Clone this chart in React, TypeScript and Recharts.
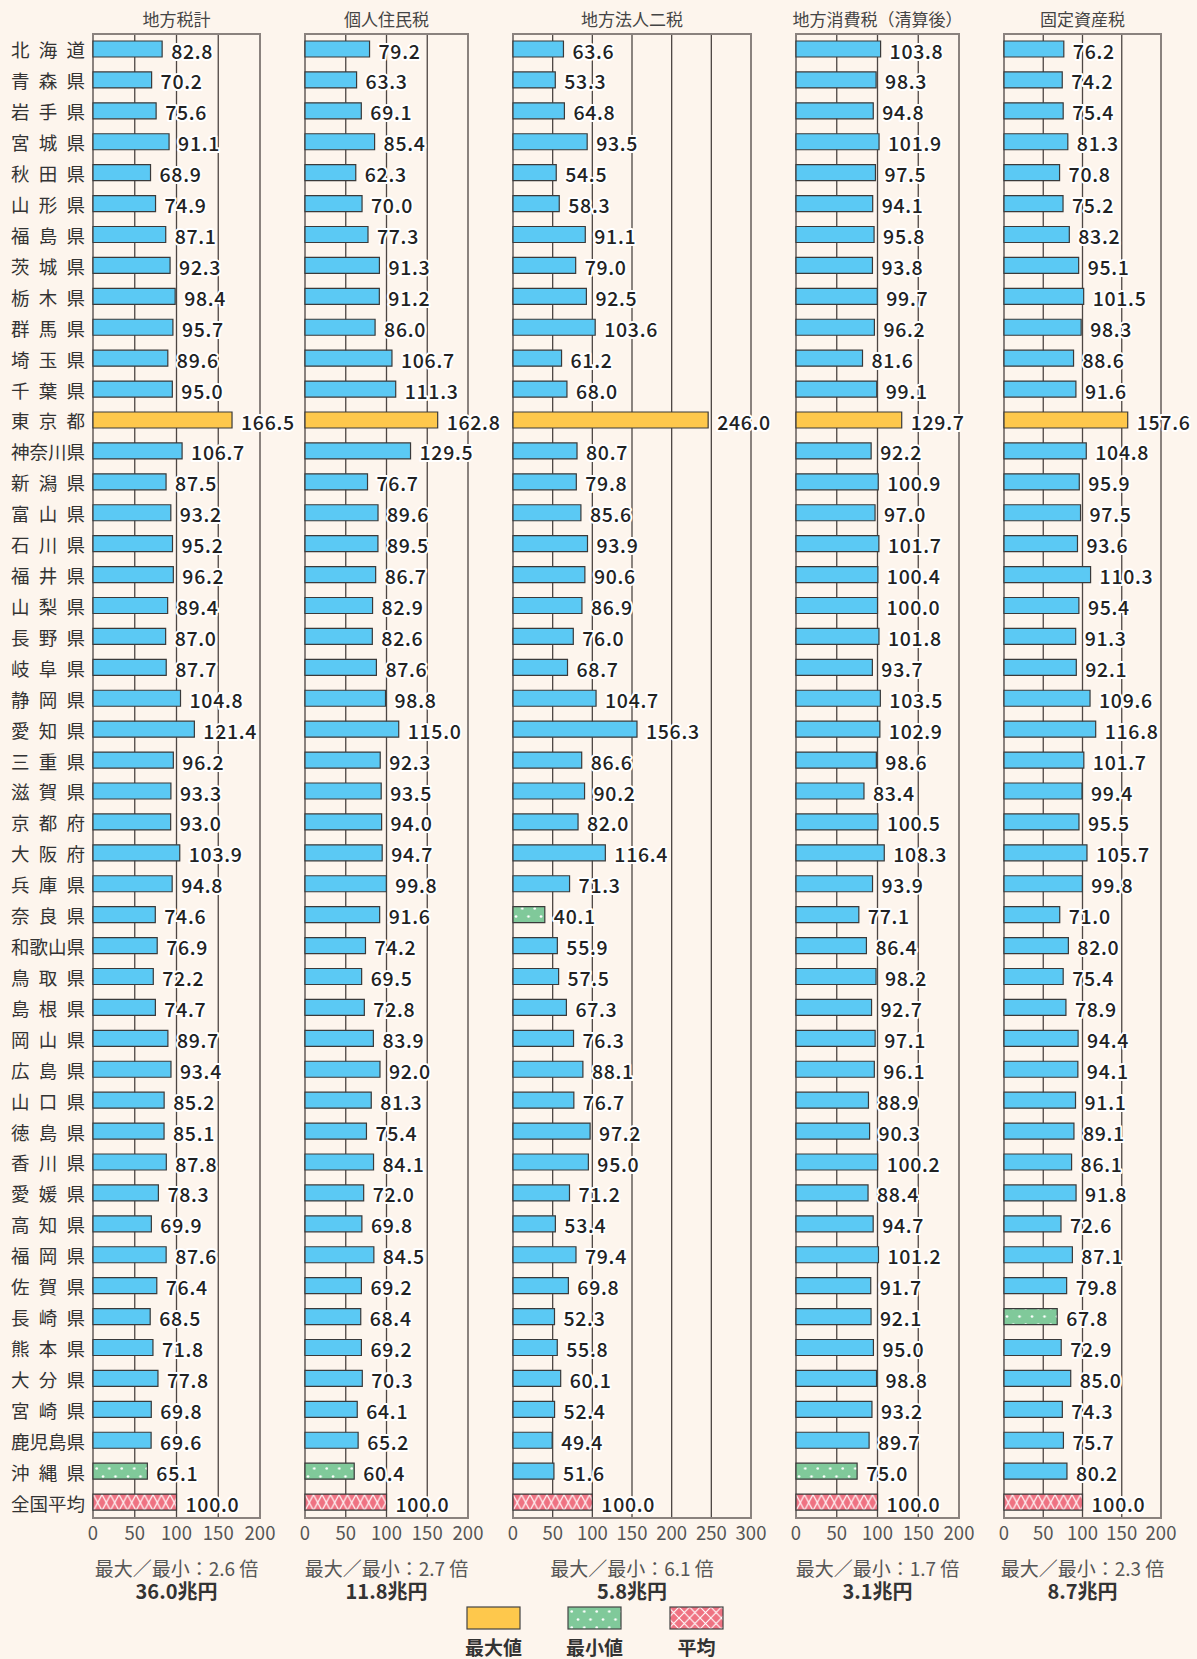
import React from "react";
import { BarChart, Bar, XAxis, YAxis, CartesianGrid, Cell, LabelList, ReferenceArea } from "recharts";

// 都道府県（全国平均=100 の指数）
const prefectures = [
  "北海道", "青森県", "岩手県", "宮城県", "秋田県", "山形県", "福島県", "茨城県", "栃木県", "群馬県",
  "埼玉県", "千葉県", "東京都", "神奈川県", "新潟県", "富山県", "石川県", "福井県", "山梨県", "長野県",
  "岐阜県", "静岡県", "愛知県", "三重県", "滋賀県", "京都府", "大阪府", "兵庫県", "奈良県", "和歌山県",
  "鳥取県", "島根県", "岡山県", "広島県", "山口県", "徳島県", "香川県", "愛媛県", "高知県", "福岡県",
  "佐賀県", "長崎県", "熊本県", "大分県", "宮崎県", "鹿児島県", "沖縄県", "全国平均",
];

const chihoZeikei = [
  82.8, 70.2, 75.6, 91.1, 68.9, 74.9, 87.1, 92.3, 98.4, 95.7,
  89.6, 95.0, 166.5, 106.7, 87.5, 93.2, 95.2, 96.2, 89.4, 87.0,
  87.7, 104.8, 121.4, 96.2, 93.3, 93.0, 103.9, 94.8, 74.6, 76.9,
  72.2, 74.7, 89.7, 93.4, 85.2, 85.1, 87.8, 78.3, 69.9, 87.6,
  76.4, 68.5, 71.8, 77.8, 69.8, 69.6, 65.1, 100.0,
];

const kojinJuminzei = [
  79.2, 63.3, 69.1, 85.4, 62.3, 70.0, 77.3, 91.3, 91.2, 86.0,
  106.7, 111.3, 162.8, 129.5, 76.7, 89.6, 89.5, 86.7, 82.9, 82.6,
  87.6, 98.8, 115.0, 92.3, 93.5, 94.0, 94.7, 99.8, 91.6, 74.2,
  69.5, 72.8, 83.9, 92.0, 81.3, 75.4, 84.1, 72.0, 69.8, 84.5,
  69.2, 68.4, 69.2, 70.3, 64.1, 65.2, 60.4, 100.0,
];

const hojinNizei = [
  63.6, 53.3, 64.8, 93.5, 54.5, 58.3, 91.1, 79.0, 92.5, 103.6,
  61.2, 68.0, 246.0, 80.7, 79.8, 85.6, 93.9, 90.6, 86.9, 76.0,
  68.7, 104.7, 156.3, 86.6, 90.2, 82.0, 116.4, 71.3, 40.1, 55.9,
  57.5, 67.3, 76.3, 88.1, 76.7, 97.2, 95.0, 71.2, 53.4, 79.4,
  69.8, 52.3, 55.8, 60.1, 52.4, 49.4, 51.6, 100.0,
];

const shohizei = [
  103.8, 98.3, 94.8, 101.9, 97.5, 94.1, 95.8, 93.8, 99.7, 96.2,
  81.6, 99.1, 129.7, 92.2, 100.9, 97.0, 101.7, 100.4, 100.0, 101.8,
  93.7, 103.5, 102.9, 98.6, 83.4, 100.5, 108.3, 93.9, 77.1, 86.4,
  98.2, 92.7, 97.1, 96.1, 88.9, 90.3, 100.2, 88.4, 94.7, 101.2,
  91.7, 92.1, 95.0, 98.8, 93.2, 89.7, 75.0, 100.0,
];

const koteiShisanzei = [
  76.2, 74.2, 75.4, 81.3, 70.8, 75.2, 83.2, 95.1, 101.5, 98.3,
  88.6, 91.6, 157.6, 104.8, 95.9, 97.5, 93.6, 110.3, 95.4, 91.3,
  92.1, 109.6, 116.8, 101.7, 99.4, 95.5, 105.7, 99.8, 71.0, 82.0,
  75.4, 78.9, 94.4, 94.1, 91.1, 89.1, 86.1, 91.8, 72.6, 87.1,
  79.8, 67.8, 72.9, 85.0, 74.3, 75.7, 80.2, 100.0,
];

const titles = ["地方税計", "個人住民税", "地方法人二税", "地方消費税（清算後）", "固定資産税"];
const ratios = ["2.6", "2.7", "6.1", "1.7", "2.3"];
const totals = ["36.0", "11.8", "5.8", "3.1", "8.7"];
const ticks200 = [0, 50, 100, 150, 200];
const ticks300 = [0, 50, 100, 150, 200, 250, 300];
const legendLabels = ["最大値", "最小値", "平均"];

const seriesList = [chihoZeikei, kojinJuminzei, hojinNizei, shohizei, koteiShisanzei];
const tickList = [ticks200, ticks200, ticks300, ticks200, ticks200];

// layout of each panel (chart left edge, y-axis width, plot width, room on the right for labels)
const layout = [
  { left: 0, axisW: 93, plotW: 167, rightPad: 40 },
  { left: 305, axisW: 0, plotW: 163, rightPad: 50 },
  { left: 513, axisW: 0, plotW: 238, rightPad: 50 },
  { left: 796, axisW: 0, plotW: 163, rightPad: 50 },
  { left: 1004, axisW: 0, plotW: 157, rightPad: 36 },
];

const BG = "#fdf5ed";
const BLUE = "#5bc9f4";
const FONT = '"Noto Sans CJK JP", "Noto Sans", sans-serif';
const TOP = 34;
const XAXIS_H = 30;
const CHART_H = 1518 + XAXIS_H;

function buildRows(values: number[]) {
  const prefVals = values.slice(0, values.length - 1);
  const maxV = Math.max(...prefVals);
  const minV = Math.min(...prefVals);
  return prefectures.map((name, i) => {
    let kind = "normal";
    if (i === values.length - 1) kind = "avg";
    else if (values[i] === maxV) kind = "max";
    else if (values[i] === minV) kind = "min";
    return { name, value: values[i], kind };
  });
}

function fillFor(kind: string) {
  if (kind === "max") return "#fec84c";
  if (kind === "min") return "url(#dotsPat)";
  if (kind === "avg") return "url(#crossPat)";
  return BLUE;
}

const PrefTick = (props: any) => {
  const { x, y, payload } = props;
  const name: string = payload.value;
  const text = name.length === 3 ? name.split("").join("\u2002") : name;
  return (
    <text x={x} y={y} textAnchor="end" dominantBaseline="central" fontSize={18.5} fill="#333">
      {text}
    </text>
  );
};

const ValueLabel = (props: any) => {
  const { x, y, width, height, value } = props;
  return (
    <text
      x={Number(x) + Number(width) + 9}
      y={Number(y) + Number(height) / 2 + 1}
      dominantBaseline="central"
      fontSize={19.5}
      fontWeight={500}
      letterSpacing={0.7}
      fill="#222"
      stroke="#fff"
      strokeWidth={4}
      strokeLinejoin="round"
      paintOrder="stroke"
    >
      {Number(value).toFixed(1)}
    </text>
  );
};

function Panel({ idx }: { idx: number }) {
  const lay = layout[idx];
  const ticks = tickList[idx];
  const max = ticks[ticks.length - 1];
  const rows = buildRows(seriesList[idx]);
  const width = lay.axisW + lay.plotW + lay.rightPad;
  const center = lay.left + lay.axisW + lay.plotW / 2;

  return (
    <>
      <div style={{ position: "absolute", top: 8, left: center - 120, width: 240, textAlign: "center", fontSize: 17, lineHeight: "22px", color: "#444" }}>
        {titles[idx]}
      </div>
      <div style={{ position: "absolute", top: 0, left: lay.left }}>
        <BarChart
          layout="vertical"
          width={width}
          height={CHART_H}
          data={rows}
          margin={{ top: TOP, right: lay.rightPad, left: 0, bottom: 0 }}
        >
          <CartesianGrid vertical horizontal={false} stroke="#4d4643" strokeWidth={1.3} />
          <XAxis
            type="number"
            domain={[0, max]}
            ticks={ticks}
            interval={0}
            height={XAXIS_H}
            axisLine={false}
            tickLine={false}
            tickSize={0}
            tickMargin={9}
            tick={{ fontSize: 18.5, fill: "#555" }}
          />
          {idx === 0 ? (
            <YAxis type="category" dataKey="name" width={lay.axisW} axisLine={false} tickLine={false} tickSize={0} tickMargin={8} interval={0} tick={<PrefTick />} />
          ) : (
            <YAxis type="category" dataKey="name" hide width={0} />
          )}
          <Bar dataKey="value" barSize={16} stroke="#3a3a3a" strokeWidth={1.2} isAnimationActive={false}>
            {rows.map((r) => (
              <Cell key={r.name} fill={fillFor(r.kind)} />
            ))}
            <LabelList dataKey="value" content={<ValueLabel />} />
          </Bar>
          <ReferenceArea x1={0} x2={max} fill="none" stroke="#8a827e" strokeWidth={2} ifOverflow="visible" />
        </BarChart>
      </div>
      <div style={{ position: "absolute", top: 1557, left: center - 110, width: 220, textAlign: "center", fontSize: 19, lineHeight: "22px", color: "#555" }}>
        最大／最小：{ratios[idx]} 倍
      </div>
      <div style={{ position: "absolute", top: 1580, left: center - 110, width: 220, textAlign: "center", fontSize: 20, lineHeight: "22px", color: "#333", fontWeight: 700 }}>
        {totals[idx]}兆円
      </div>
    </>
  );
}

export default function App() {
  const legendFills = ["#fec84c", "url(#dotsPat)", "url(#crossPat2)"];
  const legendX = [467, 568, 670];
  return (
    <div style={{ position: "absolute", top: 0, left: 0, width: 1197, height: 1659, background: BG, fontFamily: FONT, overflow: "hidden" }}>
      <style>{`.recharts-surface{overflow:visible}`}</style>
      <svg width={0} height={0} style={{ position: "absolute" }}>
        <defs>
          <pattern id="dotsPat" patternUnits="userSpaceOnUse" width={12.5} height={16}>
            <rect width={12.5} height={16} fill="#80c99a" />
            <circle cx={3} cy={4.5} r={1.3} fill="#fff" />
            <circle cx={9.25} cy={12.5} r={1.3} fill="#fff" />
          </pattern>
          <pattern id="crossPat" patternUnits="userSpaceOnUse" width={8.5} height={16} y={1494.6}>
            <rect width={8.5} height={16} fill="#ef7282" />
            <path d="M0,0 L8.5,16 M8.5,0 L0,16" stroke="#fff" strokeWidth={1.1} />
          </pattern>
          <pattern id="crossPat2" patternUnits="userSpaceOnUse" width={10.6} height={11} x={467} y={8}>
            <rect width={10.6} height={11} fill="#ef7282" />
            <path d="M0,0 L10.6,11 M10.6,0 L0,11" stroke="#fff" strokeWidth={1.1} />
          </pattern>
        </defs>
      </svg>
      {titles.map((_, i) => (
        <Panel key={i} idx={i} />
      ))}
      <svg width={1197} height={40} style={{ position: "absolute", top: 1599, left: 0 }}>
        {legendX.map((x, i) => (
          <rect key={i} x={x} y={8} width={53} height={22} fill={legendFills[i]} stroke="#444" strokeWidth={1.2} />
        ))}
      </svg>
      {legendLabels.map((t, i) => (
        <div key={t} style={{ position: "absolute", top: 1637, left: legendX[i] + 26.5 - 40, width: 80, textAlign: "center", fontSize: 19, lineHeight: "20px", fontWeight: 700, color: "#333" }}>
          {t}
        </div>
      ))}
    </div>
  );
}
